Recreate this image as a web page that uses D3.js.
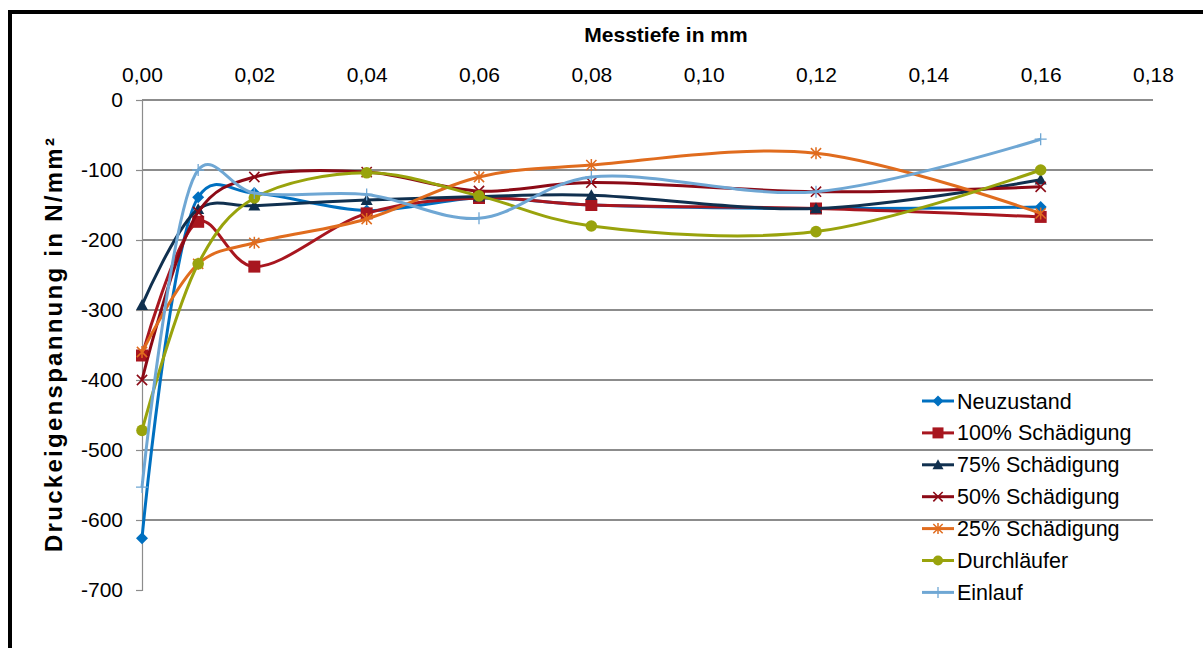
<!DOCTYPE html>
<html>
<head>
<meta charset="utf-8">
<script src="https://cdn.jsdelivr.net/npm/d3@7"></script>
<style>
html,body{margin:0;padding:0;background:#fff;overflow:hidden;}
svg{display:block;font-family:"Liberation Sans",Arial,sans-serif;}
</style>
</head>
<body>
<svg id="chart" width="1203" height="648"></svg>
<script>
// ---- data ----
const depths = [0, 0.01, 0.02, 0.04, 0.06, 0.08, 0.12, 0.16];
const seriesNames = ["Neuzustand", "100% Schädigung", "75% Schädigung", "50% Schädigung", "25% Schädigung", "Durchläufer", "Einlauf"];
const neuzustand = [-626, -139, -133, -158, -140, -150, -155, -153];
const schaedigung100 = [-365, -174, -238, -162, -140, -150, -155, -167];
const schaedigung75 = [-293, -156, -151, -143, -138, -136, -155, -114];
const schaedigung50 = [-400, -160, -110, -103, -130, -118, -131, -124];
const schaedigung25 = [-360, -234, -204, -170, -110, -93, -76, -162];
const durchlaeufer = [-472, -234, -140, -104, -137, -180, -188, -100];
const einlauf = [-553, -100, -133, -135, -169, -110, -131, -56];
const xTicks = [0, 0.02, 0.04, 0.06, 0.08, 0.10, 0.12, 0.14, 0.16, 0.18];
const yTicks = [0, -100, -200, -300, -400, -500, -600, -700];
const xTitle = "Messtiefe in mm";
const yTitle = "Druckeigenspannung in N/mm²";

const seriesValues = [neuzustand, schaedigung100, schaedigung75, schaedigung50, schaedigung25, durchlaeufer, einlauf];
const seriesColors = ["#0070C0", "#A8161F", "#10304F", "#8C0A16", "#E06C1E", "#99A30C", "#6FA7D4"];
const seriesMarkers = ["diamond", "square", "triangle", "x", "star", "circle", "plus"];

// ---- layout ----
const svg = d3.select("#chart");
const pLeft = 142, pRight = 1153, pTop = 100, pBottom = 590;
const x = d3.scaleLinear().domain([0, 0.18]).range([pLeft, pRight]);
const y = d3.scaleLinear().domain([0, -700]).range([pTop, pBottom]);
const loc = d3.formatLocale({decimal: ",", thousands: ".", grouping: [3], currency: ["", "€"], minus: "-"});
const fx = loc.format(".2f");
const fy = loc.format("d");

// border
svg.append("rect").attr("x", 10).attr("y", 12).attr("width", 1400).attr("height", 800)
  .attr("fill", "none").attr("stroke", "#000").attr("stroke-width", 4);

// gridlines
svg.append("g").selectAll("line").data(yTicks.filter(v => v > -700)).join("line")
  .attr("x1", pLeft).attr("x2", pRight).attr("y1", d => y(d)).attr("y2", d => y(d))
  .attr("stroke", "#8c8c8c").attr("stroke-width", 1.2).attr("shape-rendering", "crispEdges");

// y axis
const yAxis = svg.append("g").attr("transform", `translate(${pLeft},0)`)
  .call(d3.axisLeft(y).tickValues(yTicks).tickFormat(fy).tickSize(6).tickPadding(13));
yAxis.select(".domain").attr("stroke", "#8c8c8c").attr("stroke-width", 1.2);
yAxis.selectAll(".tick line").attr("stroke", "#8c8c8c").attr("stroke-width", 1.2);
yAxis.selectAll("text").attr("font-size", 21).attr("fill", "#000")
  .attr("font-family", "'Liberation Sans', Arial, sans-serif");

// x axis (top)
const xAxis = svg.append("g").attr("transform", `translate(0,${pTop})`)
  .call(d3.axisTop(x).tickValues(xTicks).tickFormat(fx).tickSize(0).tickPadding(18));
xAxis.select(".domain").remove();
xAxis.selectAll("text").attr("font-size", 21).attr("fill", "#000")
  .attr("font-family", "'Liberation Sans', Arial, sans-serif");

// titles
svg.append("text").attr("x", 666).attr("y", 42).attr("text-anchor", "middle")
  .attr("font-size", 21).attr("font-weight", "bold").text(xTitle);
svg.append("text").attr("transform", `translate(62,${(pTop + pBottom) / 2}) rotate(-90)`).attr("text-anchor", "middle")
  .attr("font-size", 24).attr("font-weight", "bold")
  .attr("textLength", 414).attr("lengthAdjust", "spacing").text(yTitle);

// markers
function drawMarker(g, type, color, s) {
  if (type === "diamond") {
    g.append("path").attr("d", `M0,${-s}L${s},0L0,${s}L${-s},0Z`).attr("fill", color);
  } else if (type === "square") {
    g.append("rect").attr("x", -s).attr("y", -s).attr("width", 2 * s).attr("height", 2 * s).attr("fill", color);
  } else if (type === "triangle") {
    g.append("path").attr("d", `M0,${-s}L${s},${s * 0.8}L${-s},${s * 0.8}Z`).attr("fill", color);
  } else if (type === "x") {
    const k = s * 0.85;
    g.append("path").attr("d", `M${-k},${-k}L${k},${k}M${-k},${k}L${k},${-k}`)
      .attr("stroke", color).attr("stroke-width", 1.6).attr("fill", "none");
  } else if (type === "star") {
    const k = s * 0.85;
    g.append("path").attr("d", `M${-k},${-k}L${k},${k}M${-k},${k}L${k},${-k}M0,${-s}L0,${s}`)
      .attr("stroke", color).attr("stroke-width", 1.5).attr("fill", "none");
  } else if (type === "circle") {
    g.append("circle").attr("r", s).attr("fill", color);
  } else if (type === "plus") {
    g.append("path").attr("d", `M${-s},0L${s},0M0,${-s}L0,${s}`)
      .attr("stroke", color).attr("stroke-width", 1.3).attr("fill", "none");
  }
}

const line = d3.line().x(d => x(d[0])).y(d => y(d[1])).curve(d3.curveCatmullRom.alpha(0.3));

seriesValues.forEach((vals, i) => {
  const pts = depths.map((d, j) => [d, vals[j]]);
  const g = svg.append("g");
  g.append("path").attr("d", line(pts)).attr("fill", "none")
    .attr("stroke", seriesColors[i]).attr("stroke-width", 3).attr("stroke-linejoin", "round");
  pts.forEach(p => {
    const m = g.append("g").attr("transform", `translate(${x(p[0])},${y(p[1])})`);
    drawMarker(m, seriesMarkers[i], seriesColors[i], seriesMarkers[i] === "circle" ? 5.8 : 6);
  });
});

// legend
const legend = svg.append("g");
seriesNames.forEach((name, i) => {
  const cy = 401 + i * 31.9;
  const g = legend.append("g").attr("transform", `translate(0,${cy})`);
  g.append("line").attr("x1", 922).attr("x2", 954).attr("y1", 0).attr("y2", 0)
    .attr("stroke", seriesColors[i]).attr("stroke-width", 3);
  const m = g.append("g").attr("transform", "translate(938,0)");
  drawMarker(m, seriesMarkers[i], seriesColors[i], seriesMarkers[i] === "circle" ? 5 : 5.5);
  g.append("text").attr("x", 957).attr("y", 0).attr("dy", "0.35em")
    .attr("font-size", 21.5).attr("fill", "#000").text(name);
});
</script>
</body>
</html>
